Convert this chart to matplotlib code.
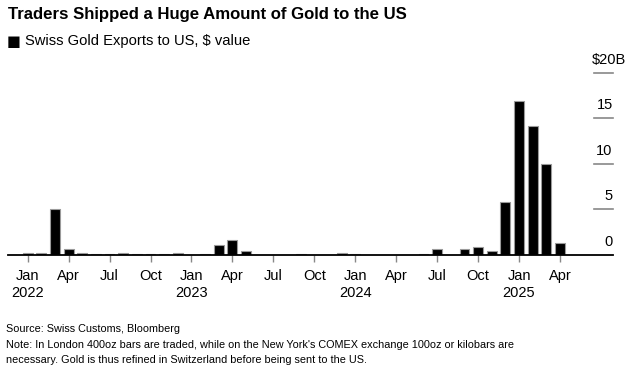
import matplotlib
matplotlib.use("Agg")
import matplotlib.pyplot as plt
import matplotlib.transforms as mtransforms

# Swiss gold exports to US, $B, monthly Jan 2022 - Apr 2025
months = ["Jan", "Feb", "Mar", "Apr", "May", "Jun",
          "Jul", "Aug", "Sep", "Oct", "Nov", "Dec"]
years = [2022, 2023, 2024, 2025]
exports_2022 = [0.2, 0.2, 5.05, 0.66, 0.2, 0.08, 0.08, 0.2, 0.08, 0.08, 0.08, 0.2]
exports_2023 = [0.0, 0.08, 1.1, 1.65, 0.44, 0.04, 0.03, 0.03, 0.1, 0.05, 0.05, 0.25]
exports_2024 = [0.15, 0.04, 0.03, 0.03, 0.03, 0.1, 0.62, 0.03, 0.62, 0.88, 0.48, 5.8]
exports_2025 = [16.9, 14.2, 9.96, 1.32]
yticks = [0, 5, 10, 15, 20]

values = exports_2022 + exports_2023 + exports_2024 + exports_2025
x = list(range(len(values)))

plt.rcParams['font.family'] = ['Liberation Sans', 'DejaVu Sans']

W, H = 644, 374
fig = plt.figure(figsize=(W / 100, H / 100), dpi=100)

# axes placed in pixel terms
left, right, base, top = 8, 612.7, 255, 72.7
ax = fig.add_axes([left / W, (H - base) / H, (right - left) / W, (base - top) / H])

ax.bar(x, values, width=0.72, color='black', edgecolor='#9a9a9a', linewidth=0.8, zorder=3)
ax.set_xlim(-1.44, 42.86)
ax.set_ylim(0, 20)

for s in ['top', 'right', 'left']:
    ax.spines[s].set_visible(False)
ax.spines['bottom'].set_linewidth(1.3)
ax.spines['bottom'].set_color('black')
ax.spines['bottom'].set_zorder(4)

# x ticks every quarter, year under January
tick_pos, tick_lab = [], []
for i in x:
    m = i % 12
    if m % 3 == 0:
        tick_pos.append(i)
        lab = months[m]
        if m == 0:
            lab += "\n" + str(years[i // 12])
        tick_lab.append(lab)
ax.set_xticks(tick_pos)
ax.set_xticklabels(tick_lab, fontsize=10.5, linespacing=1.25)
ax.tick_params(axis='x', length=5, width=1, color='#888888', pad=5)
ax.set_yticks([])

# short grid segments and labels at right
trans = mtransforms.blended_transform_factory(ax.transAxes, ax.transData)
seg_start = (594.3 - left) / (right - left)
for v in yticks:
    if v > 0:
        ax.plot([seg_start, 1.0], [v, v], transform=trans, color='#888888',
                linewidth=1.2, clip_on=False)
    lab = "$20B" if v == 20 else str(v)
    dx = 13 if v == 20 else 0
    off = mtransforms.offset_copy(trans, fig=fig, x=dx * 0.72, y=13 * 0.72, units='points')
    ax.text(1.0, v, lab, transform=off, ha='right', va='center', fontsize=10.5)

fig.text(8 / W, 1 - 14 / H, "Traders Shipped a Huge Amount of Gold to the US",
         fontsize=12.1, fontweight='bold', ha='left', va='center')
fig.text(7 / W, 1 - 41 / H, "■", fontsize=10.5, ha='left', va='center', family='DejaVu Sans')
fig.text(25 / W, 1 - 41 / H, "Swiss Gold Exports to US, $ value",
         fontsize=10.6, ha='left', va='center')

foot = ["Source: Swiss Customs, Bloomberg",
        "Note: In London 400oz bars are traded, while on the New York's COMEX exchange 100oz or kilobars are",
        "necessary. Gold is thus refined in Switzerland before being sent to the US."]
for k, line in enumerate(foot):
    fig.text(6 / W, 1 - (329 + 15.5 * k) / H, line, fontsize=7.8, ha='left', va='center')

fig.savefig("out.png", dpi=100)
